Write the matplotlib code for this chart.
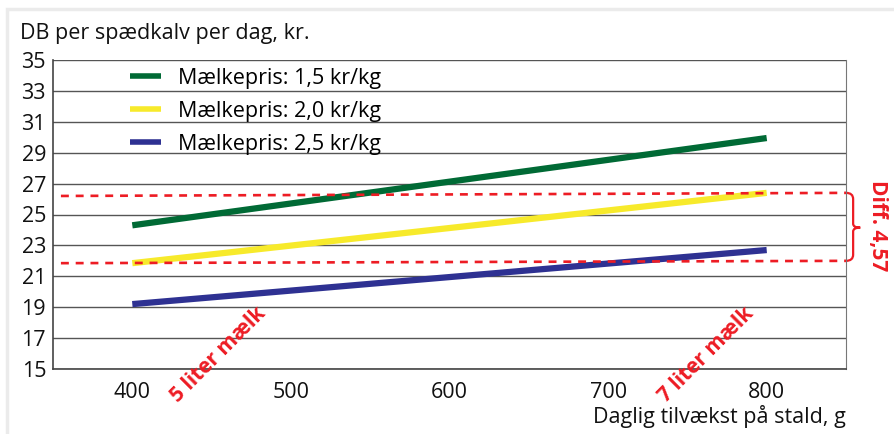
import matplotlib
matplotlib.use("Agg")
import matplotlib.pyplot as plt
from matplotlib.path import Path
from matplotlib.patches import PathPatch, Rectangle

plt.rcParams['font.family'] = ['Open Sans', 'DejaVu Sans']

growth = [400, 800]
series_labels = ["Mælkepris: 1,5 kr/kg", "Mælkepris: 2,0 kr/kg", "Mælkepris: 2,5 kr/kg"]
db_15 = [24.3, 29.95]
db_20 = [21.85, 26.4]
db_25 = [19.2, 22.7]
ref_x = [355, 850]
ref_upper = [26.2, 26.4]
ref_lower = [21.85, 22.0]
yticks = list(range(15, 36, 2))
xticks = [400, 500, 600, 700, 800]

colors = ["#006a35", "#f7ea2b", "#2e3192"]
red = "#ed1c24"

fig = plt.figure(figsize=(8.94, 4.34), dpi=100)
fig.patches.append(Rectangle((7/894, -0.1), 1.2, (434-9)/434 + 0.1, transform=fig.transFigure,
                             fill=False, edgecolor="#ebebeb", linewidth=2.5, zorder=0))
ax = fig.add_axes([53/894, 1-369/434, (846-53)/894, (369-60)/434])

for yv in yticks:
    ax.axhline(yv, color="#555555", linewidth=1.0, zorder=1)

for vals, lab, c in zip([db_15, db_20, db_25], series_labels, colors):
    ax.plot(growth, vals, color=c, linewidth=4.5, label=lab, solid_capstyle='butt', zorder=3)

ax.plot(ref_x, ref_upper, color=red, linestyle=(0, (3.0, 2.6)), linewidth=1.9, zorder=4, clip_on=False)
ax.plot(ref_x, ref_lower, color=red, linestyle=(0, (3.0, 2.6)), linewidth=1.9, zorder=4, clip_on=False)

ax.set_xlim(350, 850)
ax.set_ylim(15, 35)
ax.set_yticks(yticks)
ax.set_xticks(xticks)
ax.tick_params(length=0, labelsize=15.5, colors="#111111", pad=5)
ax.tick_params(axis='x', pad=9)
for s in ["left", "bottom"]:
    ax.spines[s].set_color("#444444")
    ax.spines[s].set_linewidth(1.2)
ax.spines["right"].set_color("#777777")
ax.spines["top"].set_visible(False)

leg = ax.legend(loc="upper left", bbox_to_anchor=(0.073, 1.037), frameon=False, fontsize=15.5,
                handlelength=1.45, handletextpad=0.75, labelspacing=0.55)
for h in leg.get_lines():
    h.set_linewidth(4)

fig.text(20/894, 1-33/434, "DB per spædkalv per dag, kr.", fontsize=15.5, va="center", ha="left", color="#111111")
fig.text(846/894, 1-416/434, "Daglig tilvækst på stald, g", fontsize=15.5, va="center", ha="right", color="#111111")

# brace
verts = [(850, 26.4), (854.5, 26.4), (854.5, 26.0),
         (854.5, 24.4),
         (854.5, 24.15), (859, 24.15),
         (854.5, 24.15), (854.5, 23.9),
         (854.5, 22.4),
         (854.5, 22.0), (850, 22.0)]
codes = [Path.MOVETO, Path.CURVE3, Path.CURVE3, Path.LINETO, Path.CURVE3, Path.CURVE3,
         Path.CURVE3, Path.CURVE3, Path.LINETO, Path.CURVE3, Path.CURVE3]
ax.add_patch(PathPatch(Path(verts, codes), fill=False, edgecolor=red, linewidth=1.6, clip_on=False))

ax.text(870, 24.25, "Diff. 4,57", rotation=-90, color=red, fontsize=15, fontweight="bold",
        ha="center", va="center", clip_on=False)
ax.text(454, 15.9, "5 liter mælk", rotation=45, color=red, fontsize=15, fontweight="bold",
        ha="center", va="center", clip_on=False, rotation_mode="anchor")
ax.text(762, 15.9, "7 liter mælk", rotation=45, color=red, fontsize=15, fontweight="bold",
        ha="center", va="center", clip_on=False, rotation_mode="anchor")

fig.savefig("out.png", dpi=100, facecolor="white")
